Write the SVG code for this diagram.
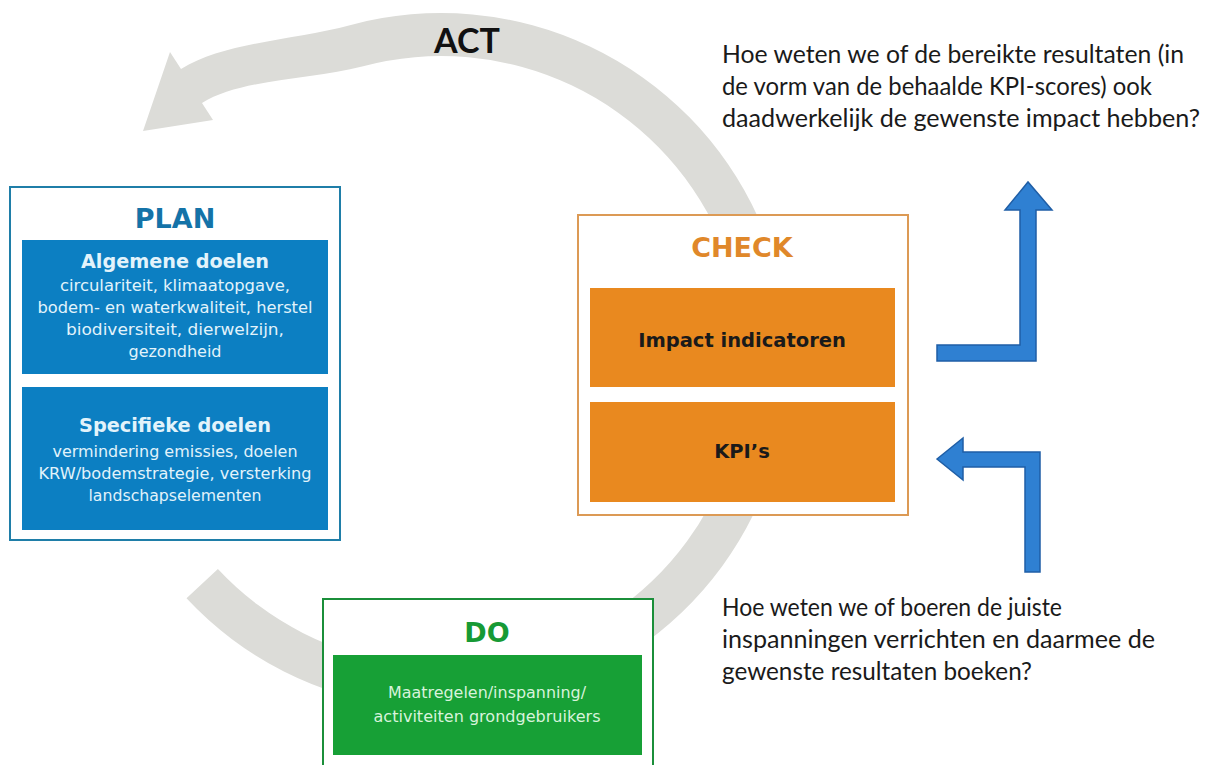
<svg xmlns="http://www.w3.org/2000/svg" width="1208" height="765" viewBox="0 0 1208 765">
<style>
.box{fill:#ffffff;stroke-width:2}
.t{font-family:"DejaVu Sans",Verdana,sans-serif;text-anchor:middle}
.b{font-weight:bold}
.q{font-family:Lato,"Liberation Sans",sans-serif;font-size:24.5px;fill:#1a1a1a}
.blue{fill:#0c7fc2}
.bt{fill:#e2f3fb;font-size:16px}
.bh{fill:#e2f3fb;font-size:19px}
.org{fill:#e9891f}
.grn{fill:#17a036}
.barrow{fill:#2f80d2;stroke:#1f5ea6;stroke-width:1.5}
</style>
<rect width="1208" height="765" fill="#ffffff"/>
<g id="connectors">
<path id="act-arc" fill="#dcdcd8" d="M217.9,569 L186.5,598.3 A348,348 0 1 0 350.9,24.9 C293,40.4 223.5,42.1 181,69 L170,52 L143,131 L213,120 L202,103 C240.3,78.8 313.8,79.3 362.1,66.4 A305,305 0 1 1 217.9,569 Z"/>
<path id="arrow-up" class="barrow" d="M937,345 L1020,345 L1020,210 L1005,210 L1028,182 L1052,210 L1036,210 L1036,361 L937,361 Z"/>
<path id="arrow-left" class="barrow" d="M937,459 L963,438 L963,452 L1040,452 L1040,572 L1025,572 L1025,467 L963,467 L963,480 Z"/>
</g>
<g id="act">
<text x="467" y="53" font-family="Lato,'Liberation Sans',sans-serif" font-weight="bold" font-size="34" text-anchor="middle" fill="#111">ACT</text>
</g>
<g id="plan">
<rect class="box" x="10" y="187" width="330" height="353" stroke="#1f7ea8"/>
<text class="t b" x="175" y="228" font-size="27" fill="#1473a8">PLAN</text>
<rect class="blue" x="22" y="240" width="306" height="134"/>
<text class="t b bh" x="175" y="268" textLength="188" lengthAdjust="spacingAndGlyphs">Algemene doelen</text>
<text class="t bt" x="175" y="291" textLength="230" lengthAdjust="spacingAndGlyphs">circulariteit, klimaatopgave,</text>
<text class="t bt" x="175" y="313" textLength="275" lengthAdjust="spacingAndGlyphs">bodem- en waterkwaliteit, herstel</text>
<text class="t bt" x="175" y="335" textLength="218" lengthAdjust="spacingAndGlyphs">biodiversiteit, dierwelzijn,</text>
<text class="t bt" x="175" y="357" textLength="93" lengthAdjust="spacingAndGlyphs">gezondheid</text>
<rect class="blue" x="22" y="387" width="306" height="143"/>
<text class="t b bh" x="175" y="432" textLength="192" lengthAdjust="spacingAndGlyphs">Specifieke doelen</text>
<text class="t bt" x="175" y="457" textLength="245" lengthAdjust="spacingAndGlyphs">vermindering emissies, doelen</text>
<text class="t bt" x="175" y="479" textLength="273" lengthAdjust="spacingAndGlyphs">KRW/bodemstrategie, versterking</text>
<text class="t bt" x="175" y="501" textLength="173" lengthAdjust="spacingAndGlyphs">landschapselementen</text>
</g>
<g id="check">
<rect class="box" x="578" y="215" width="330" height="300" stroke="#dc9a55"/>
<text class="t b" x="742" y="257" font-size="27" fill="#e0882a">CHECK</text>
<rect class="org" x="590" y="288" width="305" height="99"/>
<text class="t b" x="742" y="347" font-size="19.5" fill="#1a1a1a">Impact indicatoren</text>
<rect class="org" x="590" y="402" width="305" height="100"/>
<text class="t b" x="742" y="458" font-size="19.5" fill="#1a1a1a">KPI’s</text>
</g>
<g id="do">
<rect class="box" x="323" y="599" width="330" height="175" stroke="#1b8f3a"/>
<text class="t b" x="487" y="642" font-size="27" fill="#179a35">DO</text>
<rect class="grn" x="333" y="655" width="309" height="100"/>
<text class="t" x="487" y="698" font-size="16" fill="#d8f3dc" textLength="198" lengthAdjust="spacingAndGlyphs">Maatregelen/inspanning/</text>
<text class="t" x="487" y="722" font-size="16" fill="#d8f3dc" textLength="227" lengthAdjust="spacingAndGlyphs">activiteiten grondgebruikers</text>
</g>
<g id="question-impact">
<text class="q" x="722" y="63" textLength="462" lengthAdjust="spacingAndGlyphs">Hoe weten we of de bereikte resultaten (in</text>
<text class="q" x="722" y="95" textLength="430" lengthAdjust="spacingAndGlyphs">de vorm van de behaalde KPI-scores) ook</text>
<text class="q" x="722" y="127" textLength="478" lengthAdjust="spacingAndGlyphs">daadwerkelijk de gewenste impact hebben?</text>
</g>
<g id="question-kpi">
<text class="q" x="722" y="616" textLength="340" lengthAdjust="spacingAndGlyphs">Hoe weten we of boeren de juiste</text>
<text class="q" x="722" y="648" textLength="433" lengthAdjust="spacingAndGlyphs">inspanningen verrichten en daarmee de</text>
<text class="q" x="722" y="680" textLength="310" lengthAdjust="spacingAndGlyphs">gewenste resultaten boeken?</text>
</g>
</svg>
